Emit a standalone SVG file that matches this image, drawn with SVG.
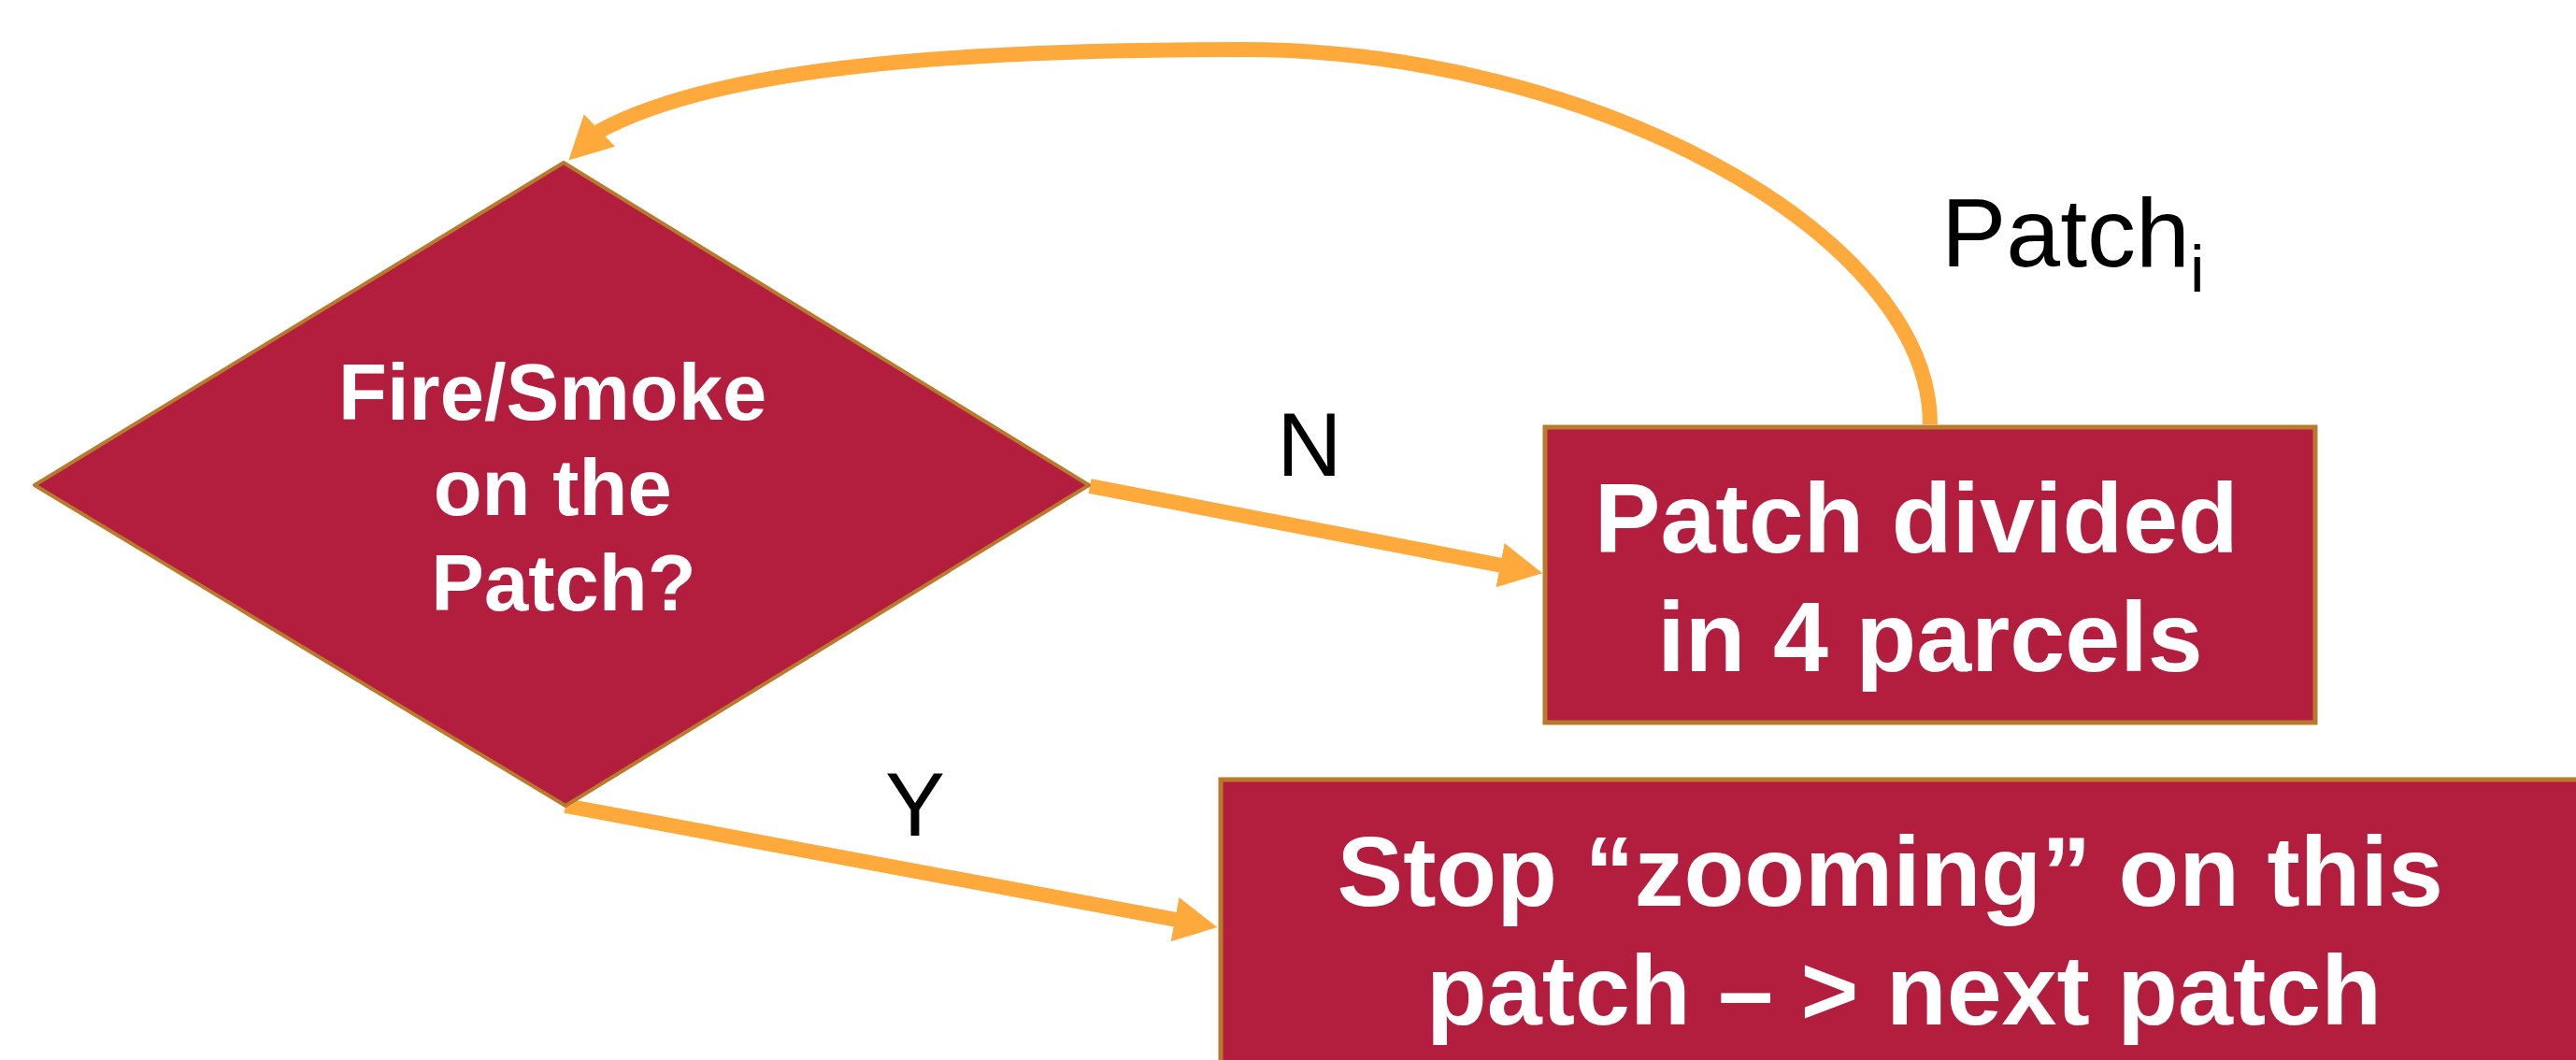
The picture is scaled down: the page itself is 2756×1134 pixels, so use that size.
<svg xmlns="http://www.w3.org/2000/svg" width="2756" height="1134" viewBox="0 0 2756 1134">
  <style>
    .node { fill: #B31E3F; stroke: #BA7A2C; }
    .nodetext { font-family: "Liberation Sans", Arial, sans-serif; font-weight: bold; fill: #FFFFFF; text-anchor: middle; }
    .edge { fill: none; stroke: #FDA93B; stroke-width: 16; }
    .label { font-family: "Liberation Sans", Arial, sans-serif; fill: #000000; }
  </style>
  <defs>
    <marker id="arrow" markerUnits="userSpaceOnUse" viewBox="0 -25 48 50" markerWidth="48" markerHeight="50" refX="2" refY="0" orient="auto">
      <path d="M0,-24 L46,0 L0,24 z" fill="#FDA93B"/>
    </marker>
    <marker id="arrowLoop" markerUnits="userSpaceOnUse" viewBox="0 -25 48 50" markerWidth="48" markerHeight="50" refX="2" refY="0" orient="136">
      <path d="M0,-24 L46,0 L0,24 z" fill="#FDA93B"/>
    </marker>
  </defs>

  <rect width="2756" height="1134" fill="#FFFFFF"/>

  <!-- connectors -->
  <g id="connectors">
    <path class="edge" d="M2065,454 C2065,250 1700,53 1330,53 C1000,53 760,75 640,141" marker-end="url(#arrowLoop)"/>
    <path class="edge" d="M1166,520 L1607,605" marker-end="url(#arrow)"/>
    <path class="edge" d="M605,862 L1259,984" marker-end="url(#arrow)"/>
  </g>

  <!-- decision -->
  <g id="decision">
    <polygon class="node" stroke-width="4" stroke-linejoin="round" points="603,174 1165,519 605,862 37,519"/>
    <text class="nodetext" font-size="85">
      <tspan x="603" y="449">Fire/Smoke</tspan>
      <tspan x="603" y="551">on the</tspan>
      <tspan x="603" y="653">Patch?</tspan>
    </text>
  </g>

  <!-- subdivide step -->
  <g id="divide">
    <rect class="node" stroke-width="5" x="1653" y="457" width="824" height="316"/>
    <text class="nodetext" font-size="106">
      <tspan x="2065" y="591">Patch divided</tspan>
      <tspan x="2065" y="718">in 4 parcels</tspan>
    </text>
  </g>

  <!-- stop step -->
  <g id="stop">
    <rect class="node" stroke-width="5" x="1306" y="834" width="1462" height="330"/>
    <text class="nodetext" font-size="106">
      <tspan x="2037" y="969">Stop “zooming” on this</tspan>
      <tspan x="2037" y="1096">patch – &gt; next patch</tspan>
    </text>
  </g>

  <!-- edge labels -->
  <g id="labels">
    <text class="label" font-size="96" x="1401" y="509" text-anchor="middle">N</text>
    <text class="label" font-size="96" x="979" y="894" text-anchor="middle">Y</text>
    <text class="label" font-size="104" x="2077" y="285">Patch<tspan y="312" font-size="70">i</tspan></text>
  </g>
</svg>
